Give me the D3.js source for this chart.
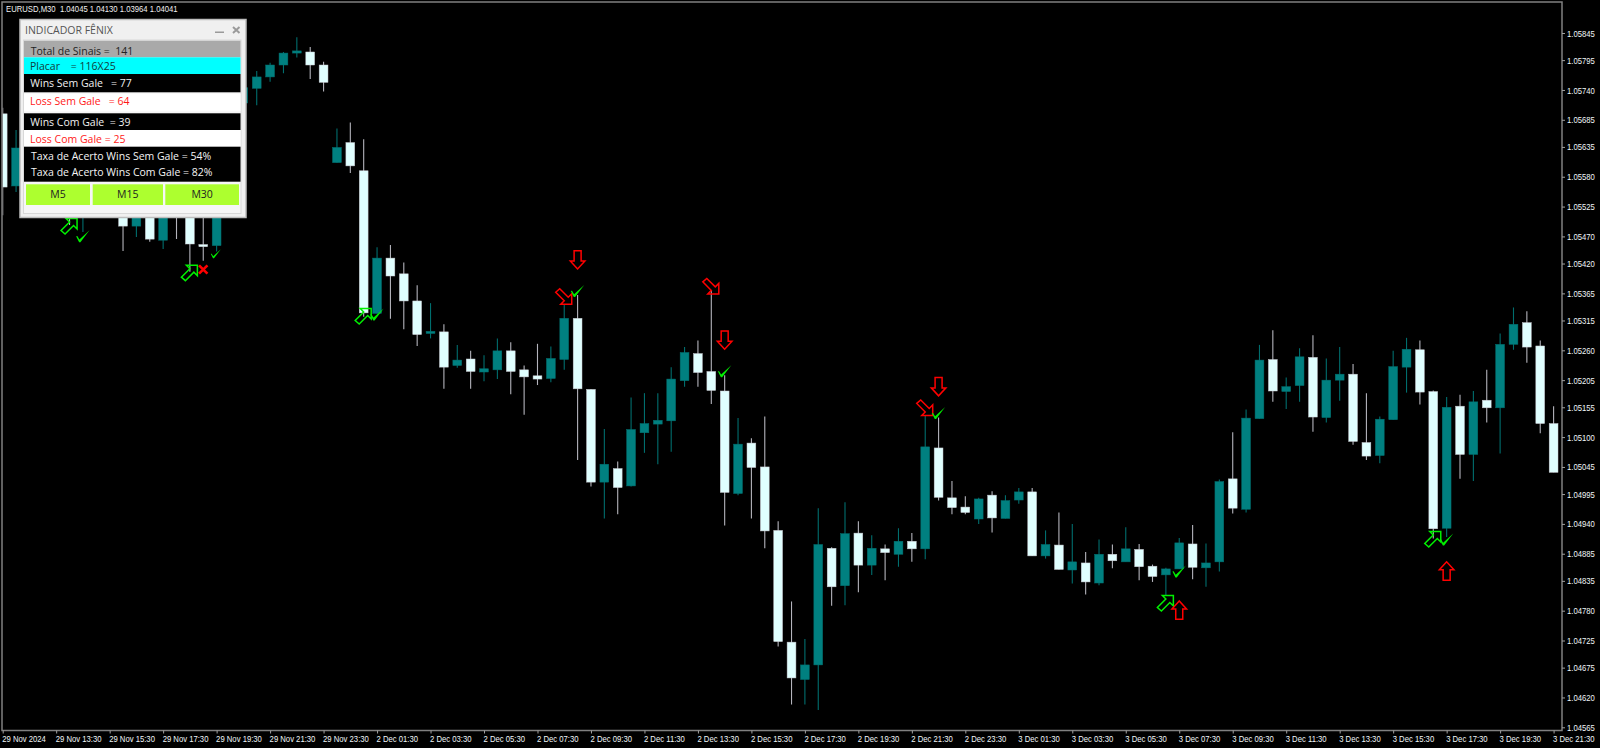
<!DOCTYPE html>
<html>
<head>
<meta charset="utf-8">
<title>EURUSD M30</title>
<script src="https://cdn.jsdelivr.net/npm/d3@7/dist/d3.min.js"></script>
<style>
  html, body { margin: 0; padding: 0; background: #000; overflow: hidden; }
  svg { display: block; }
  text { white-space: pre; }
  .axis text { font-family: "Liberation Sans", sans-serif; font-size: 9.5px; fill: #f0f6f8; }
  .axis line { stroke: #a0a0a0; }
  .panel text { font-family: "Open Sans", sans-serif; font-size: 10.5px; dominant-baseline: central; }
</style>
</head>
<body>
<div id="chart"></div>
<script>
// EURUSD M30 candles; null = bar fully behind the panel
const opens = [
  1.05696,1.05563,null,null,null,1.05592,1.05528,null,null,1.05537,
  1.05489,1.05528,1.05463,1.05537,1.05528,1.05455,1.05453,null,1.05716,1.05743,
  1.05764,1.05786,1.05808,1.05810,1.05786,1.05606,1.05643,1.05591,1.05328,1.05430,
  1.05401,1.05351,1.05291,1.05294,1.05232,1.05244,1.05220,1.05224,1.05259,1.05224,
  1.05213,1.05208,1.05243,1.05319,1.05188,1.05017,1.05042,1.05010,1.05108,1.05124,
  1.05130,1.05204,1.05254,1.05221,1.05185,1.04996,1.05089,1.05045,1.04928,1.04722,
  1.04653,1.04680,1.04895,1.04826,1.04923,1.04864,1.04894,1.04884,1.04908,1.04894,
  1.05080,1.04988,1.04971,1.04949,1.04993,1.04950,1.04984,1.04999,1.04881,1.04901,
  1.04855,1.04868,1.04831,1.04884,1.04870,1.04893,1.04862,1.04846,1.04857,1.04903,
  1.04859,1.04870,1.05023,1.04967,1.05134,1.05243,1.05184,1.05195,1.05247,1.05136,
  1.05205,1.05216,1.05090,1.05066,1.05132,1.05229,1.05261,1.05184,1.04932,1.05157,
  1.05068,1.05168,1.05154,1.05271,1.05311,1.05268,1.05125
];
const closes = [
  1.05561,1.05633,null,null,null,1.05528,1.05583,null,null,1.05489,
  1.05528,1.05465,1.05528,1.05515,1.05456,1.05451,1.05556,null,1.05744,1.05764,
  1.05786,1.05808,1.05812,1.05786,1.05754,1.05634,1.05600,1.05329,1.05430,1.05397,
  1.05351,1.05289,1.05295,1.05229,1.05242,1.05221,1.05226,1.05259,1.05221,1.05211,
  1.05207,1.05245,1.05319,1.05189,1.05017,1.05050,1.05007,1.05114,1.05125,1.05131,
  1.05207,1.05256,1.05219,1.05186,1.04998,1.05087,1.05044,1.04927,1.04723,1.04656,
  1.04680,1.04902,1.04824,1.04922,1.04864,1.04895,1.04887,1.04908,1.04894,1.05082,
  1.04989,1.04970,1.04961,1.04986,1.04951,1.04983,1.04999,1.04881,1.04902,1.04856,
  1.04870,1.04833,1.04884,1.04872,1.04894,1.04861,1.04843,1.04857,1.04905,1.04860,
  1.04868,1.05018,1.04969,1.05135,1.05242,1.05185,1.05193,1.05248,1.05137,1.05205,
  1.05216,1.05092,1.05065,1.05133,1.05230,1.05262,1.05183,1.04931,1.05155,1.05068,
  1.05165,1.05154,1.05271,1.05308,1.05266,1.05125,1.05035
];
const highs = [
  1.05707,1.05666,null,null,null,1.05611,1.05602,null,null,1.05556,
  1.05546,1.05537,1.05546,1.05556,1.05546,1.05528,1.05574,null,1.05758,1.05775,
  1.05790,1.05810,1.05837,1.05819,1.05792,1.05669,1.05680,1.05649,1.05450,1.05454,
  1.05422,1.05380,1.05347,1.05308,1.05270,1.05259,1.05251,1.05282,1.05275,1.05232,
  1.05272,1.05267,1.05344,1.05362,1.05188,1.05115,1.05055,1.05173,1.05181,1.05181,
  1.05229,1.05266,1.05278,1.05371,1.05214,1.05135,1.05098,1.05138,1.04945,1.04797,
  1.04728,1.04969,1.04897,1.04980,1.04945,1.04919,1.04902,1.04932,1.04923,1.05139,
  1.05136,1.05019,1.04991,1.04988,1.05000,1.04993,1.05006,1.05006,1.04928,1.04961,
  1.04940,1.04888,1.04911,1.04902,1.04934,1.04903,1.04865,1.04859,1.04914,1.04938,
  1.04904,1.05022,1.05109,1.05151,1.05270,1.05297,1.05210,1.05264,1.05288,1.05245,
  1.05266,1.05235,1.05181,1.05138,1.05259,1.05283,1.05278,1.05186,1.05174,1.05178,
  1.05185,1.05224,1.05291,1.05339,1.05332,1.05278,1.05157
];
const lows = [
  1.05509,1.05552,null,null,null,1.05491,1.05478,null,null,1.05443,
  1.05469,1.05460,1.05447,1.05465,1.05405,1.05425,1.05442,null,1.05694,1.05712,
  1.05755,1.05771,1.05800,1.05760,1.05737,1.05606,1.05587,1.05322,1.05328,1.05318,
  1.05299,1.05268,1.05282,1.05189,1.05228,1.05189,1.05203,1.05207,1.05179,1.05141,
  1.05196,1.05201,1.05224,1.05058,1.05009,1.04950,1.04958,1.05009,1.05071,1.05050,
  1.05073,1.05193,1.05193,1.05161,1.04937,1.04993,1.04950,1.04895,1.04714,1.04607,
  1.04607,1.04597,1.04789,1.04790,1.04814,1.04846,1.04836,1.04861,1.04870,1.04875,
  1.04983,1.04958,1.04958,1.04940,1.04924,1.04950,1.04977,1.04881,1.04876,1.04856,
  1.04830,1.04810,1.04827,1.04858,1.04870,1.04836,1.04833,1.04809,1.04857,1.04838,
  1.04824,1.04852,1.04959,1.04961,1.05134,1.05165,1.05152,1.05165,1.05110,1.05127,
  1.05167,1.05086,1.05058,1.05052,1.05132,1.05182,1.05160,1.04913,1.04916,1.05023,
  1.05019,1.05127,1.05070,1.05261,1.05237,1.05107,1.05035
];

const priceTicks = [
  1.05845,1.05795,1.05740,1.05685,1.05635,1.05580,1.05525,1.05470,1.05420,1.05365,
  1.05315,1.05260,1.05205,1.05155,1.05100,1.05045,1.04995,1.04940,1.04885,1.04835,
  1.04780,1.04725,1.04675,1.04620,1.04565
];
// one label every 4 bars
const timeLabels = [
  '29 Nov 2024','29 Nov 13:30','29 Nov 15:30','29 Nov 17:30','29 Nov 19:30','29 Nov 21:30','29 Nov 23:30',
  '2 Dec 01:30','2 Dec 03:30','2 Dec 05:30','2 Dec 07:30','2 Dec 09:30','2 Dec 11:30','2 Dec 13:30',
  '2 Dec 15:30','2 Dec 17:30','2 Dec 19:30','2 Dec 21:30','2 Dec 23:30',
  '3 Dec 01:30','3 Dec 03:30','3 Dec 05:30','3 Dec 07:30','3 Dec 09:30','3 Dec 11:30','3 Dec 13:30',
  '3 Dec 15:30','3 Dec 17:30','3 Dec 19:30','3 Dec 21:30'
];

// signal marks: bar index + price of the arrow tip / check vertex
const greenArrowBars = [5, 14, 27, 87, 107];
const greenArrowPrices = [1.05503, 1.05417, 1.05337, 1.04808, 1.04926];
const redTiltBars = [42, 53, 69];
const redTiltPrices = [1.05345, 1.05364, 1.05140];
const redDownBars = [43, 54, 70];
const redDownPrices = [1.05410, 1.05262, 1.05176];
const redUpBars = [88, 108];
const redUpPrices = [1.04798, 1.04870];
const checkBars = [6, 16, 28, 43, 54, 70, 88, 108];
const checkPrices = [1.05461, 1.05431, 1.05317, 1.05360, 1.05212, 1.05135, 1.04843, 1.04902];
const crossBars = [15];
const crossPrices = [1.05409];

const headerText = 'EURUSD,M30  1.04045 1.04130 1.03964 1.04041';
const panelTitle = 'INDICADOR FÊNIX';
const panelLabels = [
  'Total de Sinais =  141',
  'Placar    = 116X25',
  'Wins Sem Gale   = 77',
  'Loss Sem Gale   = 64',
  'Wins Com Gale  = 39',
  'Loss Com Gale = 25',
  'Taxa de Acerto Wins Sem Gale = 54%',
  'Taxa de Acerto Wins Com Gale = 82%'
];
const buttonLabels = ['M5', 'M15', 'M30'];

const W = 1600, H = 748;
const TEAL = '#008080', LIGHT = '#e0ffff', LIME = '#00f000', RED = '#ff0000';

const svg = d3.select('#chart').append('svg').attr('width', W).attr('height', H);

const x = d3.scaleLinear().domain([0, 116]).range([2.7, 1553.6]);
const y = d3.scaleLinear().domain([1.04565, 1.05845]).range([727.3, 33]);

// terminal font is narrow: squeeze the installed one to the same width
function condense(sel) {
  sel.attr('textLength', function () { return this.getComputedTextLength() * 0.81; })
    .attr('lengthAdjust', 'spacingAndGlyphs');
}

svg.append('clipPath').attr('id', 'plot').append('rect')
  .attr('x', 2.5).attr('y', 2).attr('width', 1559).attr('height', 728);

// --- Candles ---
const bars = d3.range(opens.length).filter(i => opens[i] !== null);
const plot = svg.append('g').attr('clip-path', 'url(#plot)');
const isUp = i => closes[i] >= opens[i];

plot.selectAll('.wick').data(bars).enter().append('line')
  .attr('x1', i => x(i)).attr('x2', i => x(i))
  .attr('y1', i => y(highs[i])).attr('y2', i => y(lows[i]))
  .attr('stroke', i => isUp(i) ? '#006e6e' : '#b4b4bc').attr('stroke-width', 1.1);

plot.selectAll('.body').data(bars).enter().append('rect')
  .attr('x', i => x(i) - 4.4).attr('width', 8.8)
  .attr('y', i => y(Math.max(opens[i], closes[i])))
  .attr('height', i => Math.max(1.5, Math.abs(y(opens[i]) - y(closes[i]))))
  .attr('fill', i => isUp(i) ? TEAL : LIGHT)
  .attr('stroke', i => isUp(i) ? '#006e6e' : '#c8c8d0').attr('stroke-width', 0.5);

// --- Signal marks ---
const offsetPath = pts => d3.line()(pts) + 'Z';
const TILT_UP = [[0, 0], [-11, 0], [-7.5, 3.5], [-16, 12], [-12, 15.5], [-3.5, 7], [0, 10.5]];
const TILT_DOWN = TILT_UP.map(p => [p[0], -p[1]]);
const ARROW_DOWN = [[0, 0], [-7.3, -8], [-3.5, -8], [-3.5, -18.3], [3.5, -18.3], [3.5, -8], [7.3, -8]];
const ARROW_UP = ARROW_DOWN.map(p => [p[0], -p[1]]);
const CHECK = [[-3.8, -5], [-2.6, -5.2], [-0.5, -1.8], [9.6, -11], [0.5, 1], [-0.8, 1]];

function arrows(barIdx, prices, shape, color, dx) {
  plot.append('g').selectAll('path').data(barIdx).enter().append('path')
    .attr('transform', (b, k) => `translate(${x(b) + dx},${y(prices[k])})`)
    .attr('d', offsetPath(shape))
    .attr('fill', 'none').attr('stroke', color).attr('stroke-width', 1.5);
}
arrows(greenArrowBars, greenArrowPrices, TILT_UP, LIME, 7.5);
arrows(redTiltBars, redTiltPrices, TILT_DOWN, RED, 7.5);
arrows(redDownBars, redDownPrices, ARROW_DOWN, RED, 0);
arrows(redUpBars, redUpPrices, ARROW_UP, RED, 0);

plot.append('g').selectAll('path').data(checkBars).enter().append('path')
  .attr('transform', (b, k) => `translate(${x(b) - 3},${y(checkPrices[k])}) scale(${b === 16 ? 0.75 : 1})`)
  .attr('d', offsetPath(CHECK))
  .attr('fill', LIME);

plot.append('g').selectAll('path').data(crossBars).enter().append('path')
  .attr('transform', (b, k) => `translate(${x(b)},${y(crossPrices[k])})`)
  .attr('d', 'M-4.2,-4.2L4.2,4.2M4.2,-4.2L-4.2,4.2')
  .attr('fill', 'none').attr('stroke', RED).attr('stroke-width', 2.6);

// --- Frame and axes ---
svg.append('rect').attr('x', 2).attr('y', 2).attr('width', 1560).attr('height', 728.5)
  .attr('fill', 'none').attr('stroke', '#808080').attr('stroke-width', 1.5);

const yAxis = svg.append('g').attr('class', 'axis').attr('transform', 'translate(1562,0)')
  .call(d3.axisRight(y).tickValues(priceTicks).tickFormat(d3.format('.5f')).tickSize(3).tickPadding(2));
yAxis.select('.domain').remove();
yAxis.selectAll('text').call(condense);

const xAxis = svg.append('g').attr('class', 'axis').attr('transform', 'translate(0,730.5)')
  .call(d3.axisBottom(x).tickValues(d3.range(0, 117, 4)).tickFormat((d, k) => timeLabels[k]).tickSize(3).tickPadding(2));
xAxis.select('.domain').remove();
xAxis.selectAll('text').attr('text-anchor', 'start').attr('dx', -1).call(condense);

svg.append('text').attr('x', 6).attr('y', 12)
  .style('font-family', '"Liberation Sans", sans-serif')
  .style('font-size', '9.5px').style('fill', '#f0f0f0').text(headerText).call(condense);

// --- Indicator panel (drawn over the candles) ---
const panel = svg.append('g').attr('class', 'panel');
panel.append('rect').attr('x', 20).attr('y', 19.5).attr('width', 226).attr('height', 198)
  .attr('fill', '#f0f0f0').attr('stroke', '#bdbdbd').attr('stroke-width', 1.5);
panel.append('rect').attr('x', 23.5).attr('y', 40).attr('width', 217.5).attr('height', 173.5)
  .attr('fill', '#f6f6f6').attr('stroke', '#d8d8d8').attr('stroke-width', 1);
panel.append('text').attr('x', 25).attr('y', 30).style('fill', '#555').text(panelTitle);
panel.append('rect').attr('x', 215).attr('y', 31.5).attr('width', 9).attr('height', 1.5).attr('fill', '#9a9a9a');
panel.append('path').attr('d', 'M233,27L239.5,33M239.5,27L233,33').attr('stroke', '#9a9a9a').attr('stroke-width', 2);

const rowBands = [
  { y0: 40.7, y1: 57.3, fill: '#a9a9a9' },
  { y0: 57.3, y1: 74, fill: '#00ffff' },
  { y0: 74, y1: 92.3, fill: '#000' },
  { y0: 93.7, y1: 111.3, fill: '#fff' },
  { y0: 113.3, y1: 130, fill: '#000' },
  { y0: 130, y1: 146.7, fill: '#fff' },
  { y0: 146.7, y1: 181.7, fill: '#000' }
];
panel.selectAll('.band').data(rowBands).enter().append('rect')
  .attr('x', 24).attr('width', 216.5)
  .attr('y', d => d.y0).attr('height', d => d.y1 - d.y0).attr('fill', d => d.fill);

const rowText = [
  { tx: 30.7, ty: 51, color: '#222' },
  { tx: 30, ty: 66.3, color: '#123c3c' },
  { tx: 30.3, ty: 83, color: '#f0f0f0' },
  { tx: 30, ty: 101.3, color: '#ff1818' },
  { tx: 30.3, ty: 122, color: '#f0f0f0' },
  { tx: 30, ty: 139, color: '#ff1818' },
  { tx: 31, ty: 156, color: '#f4f4f4' },
  { tx: 31, ty: 172.3, color: '#f4f4f4' }
];
panel.selectAll('.rowtxt').data(panelLabels).enter().append('text')
  .attr('x', (d, k) => rowText[k].tx).attr('y', (d, k) => rowText[k].ty)
  .style('fill', (d, k) => rowText[k].color).text(d => d);

const buttonRects = [[26, 90], [92.7, 163], [165.3, 239]];
panel.selectAll('.btn').data(buttonRects).enter().append('rect')
  .attr('x', d => d[0]).attr('y', 184.3).attr('width', d => d[1] - d[0]).attr('height', 20.7)
  .attr('fill', '#adff2f');
panel.selectAll('.btntxt').data(buttonLabels).enter().append('text')
  .attr('x', (d, k) => (buttonRects[k][0] + buttonRects[k][1]) / 2).attr('y', 193.5)
  .attr('text-anchor', 'middle').style('fill', '#222').text(d => d);
</script>
</body>
</html>
